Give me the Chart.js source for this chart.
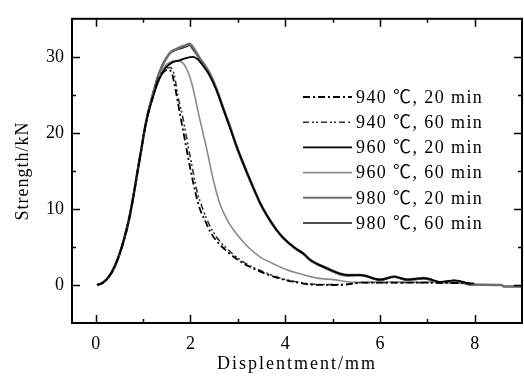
<!DOCTYPE html>
<html><head><meta charset="utf-8">
<script src="https://cdn.jsdelivr.net/npm/chart.js@4/dist/chart.umd.min.js"></script>
<style>html,body{margin:0;padding:0;background:#fff}</style>
</head><body>
<canvas id="c" width="524" height="378"></canvas>
<script>
// ---- data ----
const seriesLabels = ['940 ℃, 20 min','940 ℃, 60 min','960 ℃, 20 min','960 ℃, 60 min','980 ℃, 20 min','980 ℃, 60 min'];

const x940_20 = [0.03,0.15,0.28,0.4,0.5,0.6,0.71,0.8,0.88,0.96,1.03,1.1,1.2,1.3,1.42,1.52,1.6,1.66,1.72,1.8,1.9,2.0,2.1,2.2,2.3,2.41,2.55,2.76,3.0,3.25,3.5,3.85,4.2,4.55,5.0,5.3,5.6,6.0,7.0,8.0];
const y940_20 = [0,0.3,1.1,2.4,4.0,6.0,8.8,11.8,14.8,17.7,20.3,22.4,24.6,26.6,27.9,28.3,28.0,26.5,24.5,21.8,18.5,15.2,12.3,10.0,8.6,7.1,5.8,4.5,3.3,2.4,1.7,0.9,0.4,0.05,0.0,0.05,0.3,0.3,0.3,0.2];

const x940_60 = [0.03,0.15,0.28,0.4,0.5,0.6,0.71,0.8,0.88,0.96,1.03,1.1,1.2,1.3,1.45,1.58,1.66,1.73,1.84,1.93,2.04,2.14,2.25,2.35,2.46,2.6,2.82,3.05,3.3,3.55,3.9,4.25,4.6,5.0,5.3,5.6,6.0,7.0,8.0];
const y940_60 = [0,0.3,1.0,2.3,3.9,5.9,8.6,11.6,14.6,17.5,20.1,22.3,24.6,26.9,28.3,28.6,27.6,25.0,22.0,19.0,15.4,12.3,10.2,8.6,7.2,5.9,4.5,3.3,2.4,1.7,0.9,0.4,0.1,0.05,0.1,0.3,0.3,0.3,0.2];

const x960_20 = [0.03,0.15,0.28,0.4,0.5,0.6,0.71,0.8,0.88,0.96,1.03,1.1,1.2,1.3,1.4,1.5,1.63,1.75,1.84,1.95,2.05,2.15,2.26,2.37,2.48,2.6,2.72,2.85,2.97,3.18,3.47,3.61,3.8,3.96,4.2,4.39,4.53,4.81,5.31,5.59,6.01,6.3,6.58,6.93,7.29,7.57,7.93];
const y960_20 = [0,0.3,1.1,2.4,4.0,6.0,8.8,11.8,14.8,17.7,20.3,22.4,24.5,26.4,27.8,28.7,29.3,29.5,29.7,29.9,30.0,29.7,28.9,27.9,26.6,24.8,22.7,20.4,18.3,15.0,10.8,9.2,7.4,6.2,4.9,4.1,3.3,2.4,1.3,1.3,0.7,1.1,0.7,0.9,0.4,0.6,0.1];

const x960_60 = [0.03,0.15,0.28,0.4,0.5,0.6,0.71,0.8,0.88,0.96,1.03,1.1,1.2,1.3,1.4,1.5,1.6,1.72,1.84,1.95,2.05,2.12,2.19,2.34,2.48,2.62,2.8,3.04,3.25,3.47,3.75,4.03,4.3,4.67,5.02,5.45,6.0,7.0,7.9];
const y960_60 = [0,0.3,1.1,2.4,4.0,6.0,8.8,11.8,14.8,17.7,20.3,22.4,24.6,26.8,28.2,29.0,29.4,29.5,29.2,28.0,26.0,24.0,22.0,18.0,13.9,10.7,8.3,6.2,4.8,3.7,2.8,2.0,1.5,0.9,0.7,0.35,0.4,0.4,0.3];

const x980_20 = [0.03,0.15,0.28,0.4,0.5,0.6,0.71,0.8,0.88,0.96,1.03,1.1,1.2,1.3,1.4,1.5,1.6,1.7,1.8,1.9,1.98,2.05,2.12,2.2,2.3,2.41,2.55,2.69,2.85,2.97,3.18,3.47,3.61,3.8,3.96,4.2,4.39,4.53,4.81,5.31,5.59,6.01,6.3,6.58,6.93,7.29,7.57,7.93,8.56,8.62,9.0];
const y980_20 = [0,0.3,1.1,2.4,4.0,6.0,8.8,11.8,14.8,17.7,20.3,22.4,24.8,27.0,28.7,29.9,30.7,31.0,31.3,31.5,31.7,31.3,30.6,29.8,28.9,27.8,25.8,23.3,20.6,18.3,15.0,10.8,9.2,7.4,6.2,4.9,4.1,3.3,2.4,1.3,1.3,0.7,1.1,0.7,0.9,0.35,0.55,0.05,0.0,-0.2,-0.2];

const x980_60 = [0.03,0.15,0.28,0.4,0.5,0.6,0.71,0.8,0.88,0.96,1.03,1.1,1.2,1.3,1.4,1.5,1.6,1.7,1.8,1.9,1.98,2.05,2.12,2.2,2.3,2.41,2.55,2.69,2.85,2.97,3.18,3.47,3.61,3.8,3.96,4.2,4.39,4.53,4.81,5.31,5.59,6.01,6.3,6.58,6.93,7.29,7.57,7.93,8.56,8.62,9.0];
const y980_60 = [0,0.3,1.2,2.6,4.2,6.3,9.1,12.1,15.1,18.0,20.6,22.7,25.1,27.3,28.9,30.0,30.6,30.9,31.1,31.3,31.5,31.0,30.4,29.6,28.7,27.6,25.6,23.1,20.4,18.1,14.8,10.7,9.1,7.3,6.1,4.8,4.0,3.2,2.3,1.2,1.3,0.6,1.0,0.6,0.8,0.3,0.5,0.05,0.0,-0.2,-0.2];

const xTicks = [0,2,4,6,8];
const xMinorTicks = [1,3,5,7];
const yTicks = [0,10,20,30];
const yMinorTicks = [5,15,25];
const xTitle = 'Displentment/mm';
const yTitle = 'Strength/kN';

// ---- build datasets ----
const xs = [x940_20,x940_60,x960_20,x960_60,x980_20,x980_60];
const ys = [y940_20,y940_60,y960_20,y960_60,y980_20,y980_60];
const styles = [
  {c:'#000000', w:1.8, d:[7,3,2,3]},
  {c:'#333333', w:1.6, d:[6,3,2,2,2,3]},
  {c:'#000000', w:1.8, d:[]},
  {c:'#8a8a8a', w:1.6, d:[]},
  {c:'#6e6e6e', w:2.6, d:[]},
  {c:'#111111', w:1.4, d:[]}
];
const datasets = seriesLabels.map((lab,i)=>({
  label: lab,
  data: xs[i].map((x,j)=>({x:x, y:ys[i][j]})),
  borderColor: styles[i].c,
  borderWidth: styles[i].w,
  borderDash: styles[i].d,
  pointRadius: 0,
  fill: false,
  cubicInterpolationMode: 'monotone'
}));

const FONT = '"Liberation Serif", "Times New Roman", "Noto Sans CJK SC", serif';

const framePlugin = {
  id: 'frame',
  beforeDraw(chart) {
    for (const [id, ls] of [['x','2px'],['y','1px']]) {
      const sc = chart.scales[id];
      if (sc && !sc._lsPatched) {
        const orig = sc.drawTitle;
        sc.drawTitle = function() {
          const c = this.ctx; c.save(); c.letterSpacing = ls; orig.apply(this, arguments); c.restore();
        };
        sc._lsPatched = true;
      }
    }
  },
  afterDatasetsDraw(chart) {
    const {ctx, chartArea:a, scales:{x, y}} = chart;
    ctx.save();
    ctx.strokeStyle = '#000';
    ctx.setLineDash([]);
    ctx.lineWidth = 2;
    ctx.strokeRect(a.left, a.top, a.right - a.left, a.bottom - a.top);
    ctx.lineWidth = 1.5;
    const tickX = (vals, len) => vals.forEach(v => {
      const px = Math.round(x.getPixelForValue(v)) + 0.5;
      ctx.beginPath(); ctx.moveTo(px, a.bottom); ctx.lineTo(px, a.bottom - len);
      ctx.moveTo(px, a.top); ctx.lineTo(px, a.top + len); ctx.stroke();
    });
    const tickY = (vals, len) => vals.forEach(v => {
      const py = Math.round(y.getPixelForValue(v)) + 0.5;
      ctx.beginPath(); ctx.moveTo(a.left, py); ctx.lineTo(a.left + len, py);
      ctx.moveTo(a.right, py); ctx.lineTo(a.right - len, py); ctx.stroke();
    });
    tickX(xTicks, 8); tickX(xMinorTicks, 4);
    tickY(yTicks, 8); tickY(yMinorTicks, 4);
    ctx.restore();
  },
  afterDraw(chart) {
    const ctx = chart.ctx;
    ctx.save();
    ctx.font = '18px ' + FONT;
    ctx.letterSpacing = '1.4px';
    ctx.textBaseline = 'middle';
    ctx.textAlign = 'left';
    ctx.fillStyle = '#000';
    chart.data.datasets.forEach((ds, i) => {
      const yy = 97 + i * 25.2;
      ctx.strokeStyle = ds.borderColor;
      ctx.lineWidth = Math.min(ds.borderWidth, 2);
      ctx.setLineDash(ds.borderDash || []);
      ctx.beginPath(); ctx.moveTo(303, yy); ctx.lineTo(352, yy); ctx.stroke();
      ctx.setLineDash([]);
      ctx.fillText(ds.label, 356, yy + 1);
    });
    ctx.restore();
  }
};

new Chart(document.getElementById('c'), {
  type: 'line',
  data: { datasets },
  plugins: [framePlugin],
  options: {
    responsive: false,
    animation: false,
    layout: { padding: { top: 8, right: 2, left: 0, bottom: 0 } },
    plugins: { legend: { display: false }, tooltip: { enabled: false } },
    scales: {
      x: {
        type: 'linear', min: -0.5, max: 9,
        afterBuildTicks: s => { s.ticks = xTicks.map(v => ({ value: v })); },
        afterFit: s => { s.height = 55; },
        grid: { display: false, drawTicks: false },
        border: { display: false },
        ticks: { padding: 10, color: '#000', font: { family: FONT, size: 18 } },
        title: { display: true, text: xTitle, color: '#000', font: { family: FONT, size: 18 }, padding: { top: 0, bottom: 3 } }
      },
      y: {
        type: 'linear', min: -5, max: 35,
        afterBuildTicks: s => { s.ticks = yTicks.map(v => ({ value: v })); },
        afterFit: s => { s.width = 72; },
        grid: { display: false, drawTicks: false },
        border: { display: false },
        ticks: { padding: 8, color: '#000', font: { family: FONT, size: 18 } },
        title: { display: true, text: yTitle, color: '#000', font: { family: FONT, size: 18 }, padding: { top: 12, bottom: 0 } }
      }
    }
  }
});
</script>
</body></html>
